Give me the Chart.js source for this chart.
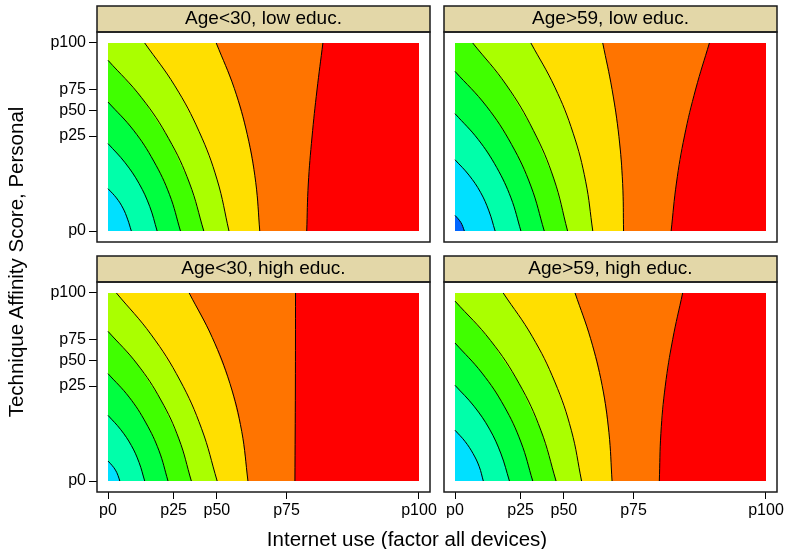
<!DOCTYPE html>
<html>
<head>
<meta charset="utf-8">
<script src="https://cdn.jsdelivr.net/npm/chart.js@4.4.0/dist/chart.umd.min.js"></script>
<style>
  body { margin: 0; background: #fff; }
  #wrap { position: relative; width: 788px; height: 549px; font-family: "Liberation Sans", Arial, sans-serif; }
  canvas { position: absolute; }
  .axt { position: absolute; font-size: 20.5px; line-height: 20px; color: #000; text-align: center; white-space: nowrap; }
</style>
</head>
<body>
<div id="wrap">
  <canvas id="tl" width="440" height="250" style="left:0;top:0"></canvas>
  <canvas id="tr" width="348" height="250" style="left:440px;top:0"></canvas>
  <canvas id="bl" width="440" height="299" style="left:0;top:250px"></canvas>
  <canvas id="br" width="348" height="299" style="left:440px;top:250px"></canvas>
  <div class="axt" style="left:207px;top:529px;width:400px">Internet use (factor all devices)</div>
  <div class="axt" style="left:-184px;top:252px;width:400px;height:20px;transform:rotate(-90deg)">Technique Affinity Score, Personal</div>
</div>
<script>
const fontFamily = '"Liberation Sans", Arial, sans-serif';

// percentile tick positions on both axes (raw scale 0..100)
const xTickValues = [0, 21.1, 35.0, 57.4, 100];
const xTickLabels = ['p0', 'p25', 'p50', 'p75', 'p100'];
const yTickValues = [0, 50.5, 64.0, 75.2, 100];
const yTickLabels = ['p0', 'p25', 'p50', 'p75', 'p100'];

const panelTitles = ['Age<30, low educ.', 'Age>59, low educ.', 'Age<30, high educ.', 'Age>59, high educ.'];

// level colours, low -> high
const palette = ['#0066FF', '#00E0FF', '#00FFAA', '#00FF40', '#40FF00', '#AAFF00', '#FFDF00', '#FF7400', '#FF0000'];

// contour lines [x, y]
const contoursLowYoung = [
  [[0, 22.5], [2.7, 17.6], [4.8, 12.2], [6.3, 6.3], [7.5, 0]],
  [[0, 46.5], [5.5, 36.3], [10.0, 25.2], [13.4, 13.1], [15.8, 0]],
  [[0, 68.6], [8.2, 53.6], [14.7, 37.2], [19.8, 19.3], [23.3, 0]],
  [[0, 90.8], [10.8, 70.9], [19.5, 49.2], [26.2, 25.5], [30.8, 0]],
  [[11.8, 100], [21.5, 77.2], [29.3, 52.9], [35.1, 27.2], [38.9, 0]],
  [[34.8, 100], [40.6, 75.9], [44.8, 51.2], [47.5, 25.9], [48.8, 0]],
  [[69.1, 100], [67.2, 75], [65.6, 50], [64.4, 25], [63.9, 0]]
];
const contoursLowOld = [
  [[0, 8.3], [1.0, 6.5], [1.9, 4.5], [2.5, 2.4], [3.0, 0]],
  [[0, 37.9], [4.5, 29.7], [8.2, 20.6], [10.9, 10.7], [12.9, 0]],
  [[0, 62.4], [7.4, 48.8], [13.4, 33.8], [18.0, 17.6], [21.2, 0]],
  [[0, 84.9], [10.1, 66.4], [18.2, 46.0], [24.4, 23.9], [28.7, 0]],
  [[5.7, 100], [16.5, 77.7], [25.2, 53.5], [31.8, 27.7], [36.2, 0]],
  [[24.4, 100], [32.1, 76.5], [38.0, 52.0], [42.0, 26.5], [44.3, 0]],
  [[47.5, 100], [50.5, 75.3], [52.7, 50.3], [53.9, 25.3], [54.2, 0]],
  [[81.8, 100], [77.4, 75.5], [73.8, 50.6], [71.2, 25.5], [69.5, 0]]
];
const contoursHighYoung = [
  [[0, 10.6], [1.3, 8.3], [2.4, 5.8], [3.2, 3.0], [3.8, 0]],
  [[0, 34.9], [4.1, 27.3], [7.5, 18.9], [10.0, 9.8], [11.8, 0]],
  [[0, 57.1], [6.8, 44.6], [12.2, 30.9], [16.4, 16.1], [19.3, 0]],
  [[0, 79.6], [9.4, 62.2], [17.0, 43.1], [22.8, 22.4], [26.8, 0]],
  [[2.7, 100], [13.9, 77.8], [23.1, 53.7], [30.1, 27.8], [35.1, 0]],
  [[26.1, 100], [33.5, 76.4], [39.2, 51.9], [43.0, 26.4], [45.0, 0]],
  [[60.3, 100], [60.25, 50], [60.1, 0]]
];
const contoursHighOld = [
  [[0, 27.0], [3.2, 21.1], [5.8, 14.6], [7.8, 7.6], [9.1, 0]],
  [[0, 50.9], [6.1, 39.8], [11.1, 27.6], [14.8, 14.4], [17.5, 0]],
  [[0, 73.4], [8.7, 57.4], [15.8, 39.8], [21.2, 20.7], [25.0, 0]],
  [[0, 95.7], [11.4, 74.8], [20.6, 51.9], [27.6, 27.0], [32.5, 0]],
  [[15.5, 100], [24.8, 77.0], [32.1, 52.7], [37.4, 27.0], [40.7, 0]],
  [[38.6, 100], [43.6, 75.7], [47.3, 50.9], [49.5, 25.7], [50.5, 0]],
  [[73.2, 100], [70.0, 75.3], [67.6, 50.4], [66.2, 25.3], [65.7, 0]]
];

const stripFrame = {
  id: 'stripFrame',
  beforeDraw(chart) {
    const { ctx, chartArea: a } = chart;
    ctx.save();
    ctx.fillStyle = '#E3D7A8';
    ctx.fillRect(a.left, a.top - 26, a.right - a.left, 26);
    ctx.restore();
  },
  afterDraw(chart) {
    const { ctx, chartArea: a } = chart;
    ctx.save();
    ctx.strokeStyle = '#1a1a1a';
    ctx.lineWidth = 1.5;
    ctx.strokeRect(a.left, a.top - 26, a.right - a.left, 26);
    ctx.strokeRect(a.left, a.top, a.right - a.left, a.bottom - a.top);
    ctx.restore();
  }
};

function band(points, color, order) {
  return {
    data: points, fill: 'shape', backgroundColor: color,
    borderColor: 'rgba(0,0,0,0)', borderWidth: 0, pointRadius: 0, tension: 0, order: order
  };
}

function makePanel(id, title, contours, firstColor, showX, showY, padLeft, padRight) {
  const n = contours.length;
  const datasets = [];
  datasets.push(band([{ x: 0, y: 0 }, { x: 100, y: 0 }, { x: 100, y: 100 }, { x: 0, y: 100 }], palette[firstColor], n + 10));
  contours.forEach((c, i) => {
    const pts = c.map(p => ({ x: p[0], y: p[1] }));
    const poly = pts.concat([{ x: 100, y: 0 }, { x: 100, y: 100 }]);
    if (pts[0].x === 0) poly.push({ x: 0, y: 100 });
    datasets.push(band(poly, palette[firstColor + i + 1], n + 9 - i));
  });
  contours.forEach(c => {
    datasets.push({
      data: c.map(p => ({ x: p[0], y: p[1] })),
      borderColor: '#000', borderWidth: 1, tension: 0.4, pointRadius: 0, fill: false, order: 0
    });
  });

  const tickFont = { family: fontFamily, size: 16 };

  new Chart(document.getElementById(id), {
    type: 'line',
    data: { datasets },
    options: {
      responsive: false,
      animation: false,
      events: [],
      layout: { padding: { top: 6, right: padRight, bottom: showX ? 0 : 8, left: padLeft } },
      plugins: {
        legend: { display: false },
        tooltip: { enabled: false },
        title: {
          display: true, text: title, fullSize: false, color: '#000',
          font: { family: fontFamily, size: 19, weight: 'normal', lineHeight: 1 },
          padding: { top: 3, bottom: 4 }
        }
      },
      scales: {
        x: {
          type: 'linear', display: showX, min: -3.537, max: 103.537,
          afterBuildTicks: s => { s.ticks = xTickValues.map(v => ({ value: v })); },
          afterFit: s => { if (showX) { s.height = 57; s.paddingLeft = 0; s.paddingRight = 0; } },
          ticks: { autoSkip: false, maxRotation: 0, padding: 2, color: '#000', font: tickFont,
                   callback: (v, i) => xTickLabels[i] },
          grid: { drawOnChartArea: false, tickLength: 7, color: '#000' },
          border: { display: false }
        },
        y: {
          type: 'linear', display: showY, min: -5.851, max: 105.851,
          afterBuildTicks: s => { s.ticks = yTickValues.map(v => ({ value: v })); },
          afterFit: s => { if (showY) { s.width = 97; s.paddingTop = 0; s.paddingBottom = 0; } },
          ticks: { autoSkip: false, padding: 3, color: '#000', font: tickFont,
                   callback: (v, i) => yTickLabels[i] },
          grid: { drawOnChartArea: false, tickLength: 8, color: '#000' },
          border: { display: false }
        }
      }
    },
    plugins: [stripFrame]
  });
}

makePanel('tl', panelTitles[0], contoursLowYoung, 1, false, true, 0, 10);
makePanel('tr', panelTitles[1], contoursLowOld, 0, false, false, 4, 11);
makePanel('bl', panelTitles[2], contoursHighYoung, 1, true, true, 0, 10);
makePanel('br', panelTitles[3], contoursHighOld, 1, true, false, 4, 11);
</script>
</body>
</html>
